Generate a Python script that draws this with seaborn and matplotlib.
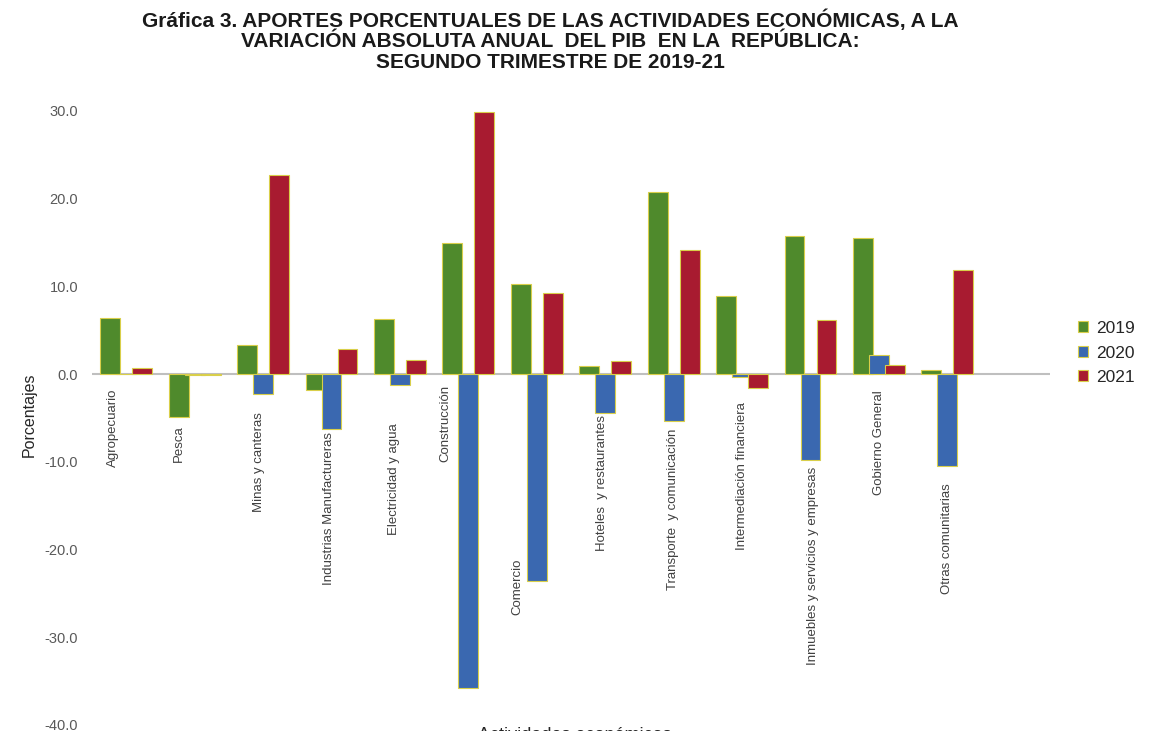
import matplotlib
matplotlib.use("Agg")
import matplotlib.pyplot as plt
import seaborn as sns
import pandas as pd

categories = ["Agropecuario", "Pesca", "Minas y canteras", "Industrias Manufactureras",
              "Electricidad y agua", "Construcción", "Comercio", "Hoteles  y restaurantes",
              "Transporte  y comunicación", "Intermediación financiera",
              "Inmuebles y servicios y empresas", "Gobierno General", "Otras comunitarias"]
years = ["2019", "2020", "2021"]
v2019 = [6.4, -4.9, 3.3, -1.8, 6.3, 14.9, 10.3, 0.9, 20.8, 8.9, 15.8, 15.5, 0.5]
v2020 = [0.0, -0.1, -2.3, -6.3, -1.2, -35.8, -23.6, -4.4, -5.3, -0.3, -9.8, 2.2, -10.5]
v2021 = [0.7, -0.1, 22.7, 2.9, 1.6, 29.9, 9.2, 1.5, 14.1, -1.6, 6.2, 1.0, 11.9]
yticks = [30, 20, 10, 0, -10, -20, -30, -40]

# layout of category labels (style, not data)
label_dx = [-0.19, -0.23, -0.06, -0.04, -0.09, -0.34, -0.28, -0.04, -0.01, 0.0, 0.03, 0.0, 0.0]
label_top = [-1.6, -5.8, -4.3, -6.6, -5.6, -1.25, -21.0, -4.7, -6.2, -3.2, -10.6, -1.8, -12.4]

colors = ["#4f8a2c", "#3a68b0", "#a81b30"]

df = pd.DataFrame({
    "cat": categories * 3,
    "year": [years[0]] * 13 + [years[1]] * 13 + [years[2]] * 13,
    "val": v2019 + v2020 + v2021,
})

sns.set_theme(style="white")
plt.rcParams["font.family"] = ["Liberation Sans", "DejaVu Sans"]

fig = plt.figure(figsize=(11.7, 7.31), dpi=100)
ax = fig.add_axes([92 / 1170, 1 - 725 / 731, (1050 - 92) / 1170, (725 - 111) / 731])

sns.barplot(data=df, x="cat", y="val", hue="year", order=categories, hue_order=years,
            palette=colors, width=0.7, edgecolor="#d9cf4a", linewidth=0.8, ax=ax,
            saturation=1, legend=True)

for p in ax.patches:
    if p.get_width() > 0:
        c = p.get_x() + p.get_width() / 2
        w = 0.29
        p.set_x(c - w / 2)
        p.set_width(w)
        p.set_clip_on(False)

ax.set_xlim(-0.5, 13.5)
ax.set_ylim(-40, 30)
ax.set_yticks(yticks)
ax.set_yticklabels([f"{t:.1f}" for t in yticks], color="#595959", fontsize=10.5)
ax.tick_params(axis="y", length=0, pad=10)
ax.set_xticks([])
ax.set_xlabel("")
ax.set_ylabel("Porcentajes", fontsize=11.5, color="#262626")
ax.yaxis.set_label_coords(-0.058, 0.505)
for s in ax.spines.values():
    s.set_visible(False)
ax.axhline(0, color="#bfbfbf", lw=1.5, zorder=0.5)

for i, cat in enumerate(categories):
    ax.text(i + label_dx[i], label_top[i], cat, rotation=90, ha="center", va="top",
            fontsize=9.5, color="#404040")

handles, labels = ax.get_legend_handles_labels()
ax.legend(handles, labels, loc="center left", bbox_to_anchor=(1062 / 1170, 1 - 353 / 731),
          bbox_transform=fig.transFigure, frameon=False, fontsize=12.5,
          handlelength=0.6, handleheight=0.6, handletextpad=0.45, labelspacing=0.55)

fig.text(550 / 1170, 1 - 9 / 731,
         "Gráfica 3. APORTES PORCENTUALES DE LAS ACTIVIDADES ECONÓMICAS, A LA\n"
         "VARIACIÓN ABSOLUTA ANUAL  DEL PIB  EN LA  REPÚBLICA:\n"
         "SEGUNDO TRIMESTRE DE 2019-21",
         ha="center", va="top", fontsize=15, fontweight="bold", color="#1a1a1a",
         linespacing=1.1)

fig.text(575 / 1170, 1 - 736 / 731, "Actividades económicas", ha="center", va="center",
         fontsize=13, color="#262626")

fig.savefig("out.png", dpi=100)
